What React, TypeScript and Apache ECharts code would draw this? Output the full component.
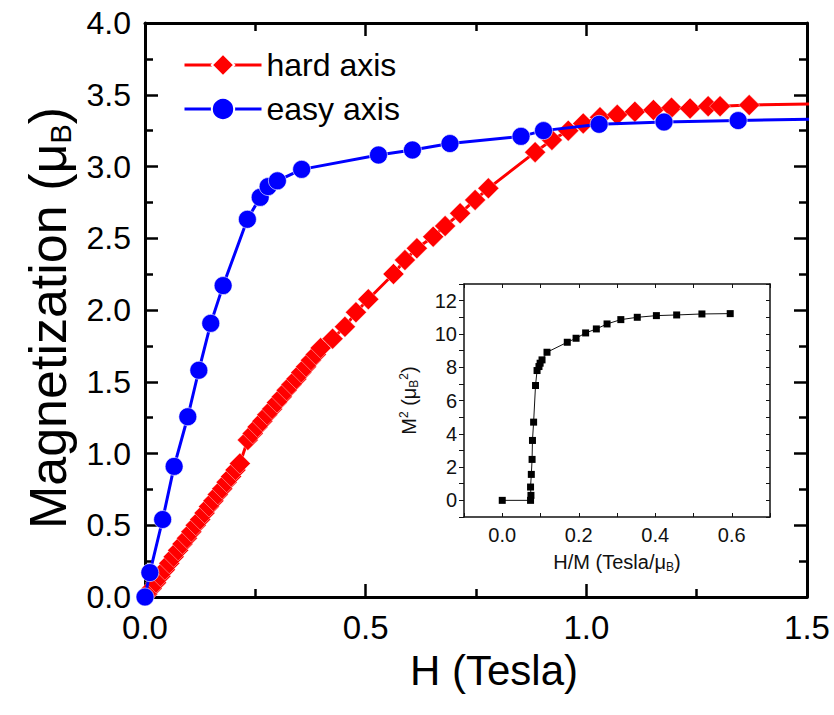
import React, { useEffect, useRef } from "react";
import * as echarts from "echarts";

// ---- main plot data: [H (Tesla), M (μB)] ----
const hardAxisH = [
  0.005, 0.015, 0.025, 0.035, 0.045, 0.055, 0.065, 0.075, 0.085, 0.095, 0.105,
  0.115, 0.125, 0.135, 0.145, 0.155, 0.165, 0.175, 0.185, 0.195, 0.205, 0.215,
  0.233, 0.244, 0.255, 0.266, 0.277, 0.288, 0.299, 0.31, 0.321, 0.332, 0.343,
  0.354, 0.365, 0.376, 0.387, 0.398, 0.425, 0.453, 0.478, 0.506, 0.563, 0.589,
  0.616, 0.653, 0.68, 0.714, 0.748, 0.778, 0.884, 0.922, 0.959, 0.993, 1.031,
  1.07, 1.11, 1.152, 1.193, 1.235, 1.276, 1.303, 1.369, 1.6,
];
const hardAxisM = [
  0.02, 0.06, 0.1, 0.145, 0.19, 0.235, 0.28, 0.325, 0.37, 0.41, 0.455,
  0.5, 0.54, 0.585, 0.63, 0.67, 0.715, 0.755, 0.8, 0.84, 0.885, 0.93,
  1.094, 1.14, 1.185, 1.225, 1.27, 1.31, 1.355, 1.395, 1.44, 1.48, 1.52,
  1.565, 1.605, 1.65, 1.69, 1.735, 1.8, 1.883, 1.984, 2.075, 2.251, 2.348,
  2.43, 2.511, 2.585, 2.674, 2.767, 2.848, 3.1, 3.185, 3.25, 3.3, 3.343,
  3.36, 3.382, 3.394, 3.41, 3.405, 3.42, 3.42, 3.428, 3.44,
];
const easyAxisH = [
  0.0, 0.011, 0.04, 0.066, 0.097, 0.122, 0.149, 0.177, 0.232, 0.261, 0.279,
  0.3, 0.355, 0.529, 0.606, 0.691, 0.852, 0.903, 1.029, 1.176, 1.344, 1.6,
];
const easyAxisM = [
  0.0, 0.17, 0.54, 0.91, 1.256, 1.58, 1.907, 2.17, 2.632, 2.785, 2.86,
  2.9, 2.98, 3.08, 3.115, 3.16, 3.21, 3.25, 3.294, 3.31, 3.32, 3.336,
];

// ---- inset data: [H/M (Tesla/μB), M² (μB²)] ----
const insetX = [
  0.0, 0.074, 0.075, 0.074, 0.076, 0.078, 0.079, 0.082, 0.087, 0.091, 0.096,
  0.099, 0.104, 0.117, 0.17, 0.193, 0.218, 0.246, 0.274, 0.31, 0.353, 0.403,
  0.456, 0.522, 0.596,
];
const insetY = [
  0.0, 0.0, 0.3, 0.8, 1.56, 2.46, 3.6, 4.7, 6.9, 7.8, 8.04,
  8.24, 8.44, 8.9, 9.5, 9.74, 10.06, 10.3, 10.6, 10.86, 11.0, 11.1,
  11.14, 11.2, 11.22,
];

const seriesNames = ["hard axis", "easy axis"];
const FONT = "'Liberation Sans', Arial, Helvetica, sans-serif";

const zip = (xs: number[], ys: number[]) => xs.map((x, i) => [x, ys[i]]);

export default function App() {
  const ref = useRef<HTMLDivElement>(null);

  useEffect(() => {
    if (!ref.current) return;
    const chart = echarts.init(ref.current, undefined, { renderer: "svg" });

    const mainLine = { onZero: false, lineStyle: { color: "#000", width: 3 } };
    const insetLine = { onZero: false, lineStyle: { color: "#111", width: 1.5 } };
    const mainTick = { inside: true, length: 13, lineStyle: { color: "#000", width: 2.5 } };
    const mainMinor = { show: true, splitNumber: 2, length: 8, lineStyle: { color: "#000", width: 2.5 } };
    const fmt1 = (v: number) => v.toFixed(1);

    const option: any = {
      animation: false,
      backgroundColor: "#fff",
      textStyle: { fontFamily: FONT },
      legend: {
        data: seriesNames,
        orient: "vertical",
        left: 178,
        top: 44,
        itemWidth: 77,
        itemHeight: 28,
        itemGap: 12,
        lineStyle: { width: 3 },
        textStyle: { fontSize: 32, color: "#000", fontFamily: FONT },
      },
      grid: [
        { left: 145, top: 23, width: 662, height: 574, containLabel: false, outerBoundsMode: "none" },
        { left: 464, top: 284, width: 306, height: 233, containLabel: false, outerBoundsMode: "none" },
      ],
      xAxis: [
        {
          type: "value",
          gridIndex: 0,
          min: 0,
          max: 1.5,
          interval: 0.5,
          position: "bottom",
          axisLine: mainLine,
          axisTick: mainTick,
          minorTick: mainMinor,
          splitLine: { show: false },
          axisLabel: { formatter: fmt1, fontSize: 33, color: "#000", margin: 14, fontFamily: FONT },
          name: "H (Tesla)",
          nameLocation: "middle",
          nameGap: 52,
          nameTextStyle: { fontSize: 42, color: "#000", fontFamily: FONT, padding: [0, 0, 0, 36] },
        },
        {
          type: "value",
          gridIndex: 0,
          min: 0,
          max: 1.5,
          interval: 0.5,
          position: "top",
          axisLine: mainLine,
          axisTick: mainTick,
          minorTick: mainMinor,
          splitLine: { show: false },
          axisLabel: { show: false },
        },
        {
          type: "value",
          gridIndex: 1,
          min: -0.1,
          max: 0.7,
          interval: 0.1,
          position: "bottom",
          axisLine: insetLine,
          axisTick: { inside: true, length: 4, lineStyle: { color: "#111", width: 1 } },
          splitLine: { show: false },
          axisLabel: {
            fontSize: 20,
            color: "#111",
            margin: 8,
            fontFamily: FONT,
            formatter: (v: number) => (Math.round(v * 10) % 2 === 0 ? v.toFixed(1) : ""),
          },
          name: "H/M (Tesla/μ{sub|B})",
          nameLocation: "middle",
          nameGap: 34,
          nameTextStyle: {
            fontSize: 20,
            color: "#111",
            fontFamily: FONT,
            rich: { sub: { fontSize: 12, color: "#111", verticalAlign: "bottom", padding: [10, 0, 0, 0] } },
          },
        },
        {
          type: "value",
          gridIndex: 1,
          min: -0.1,
          max: 0.7,
          interval: 0.1,
          position: "top",
          axisLine: insetLine,
          axisTick: { inside: true, length: 4, lineStyle: { color: "#111", width: 1 } },
          splitLine: { show: false },
          axisLabel: { show: false },
        },
      ],
      yAxis: [
        {
          type: "value",
          gridIndex: 0,
          min: 0,
          max: 4,
          interval: 0.5,
          position: "left",
          axisLine: mainLine,
          axisTick: mainTick,
          minorTick: mainMinor,
          splitLine: { show: false },
          axisLabel: { formatter: fmt1, fontSize: 32, color: "#000", margin: 14, fontFamily: FONT },
          name: "Magnetization (μ{sub|B})",
          nameLocation: "middle",
          nameRotate: 90,
          nameGap: 70,
          nameTextStyle: {
            fontSize: 52,
            color: "#000",
            fontFamily: FONT,
            padding: [0, 16, 0, 0],
            rich: { sub: { fontSize: 29, color: "#000", verticalAlign: "bottom", padding: [25, 0, 0, 0] } },
          },
        },
        {
          type: "value",
          gridIndex: 0,
          min: 0,
          max: 4,
          interval: 0.5,
          position: "right",
          axisLine: mainLine,
          axisTick: mainTick,
          minorTick: mainMinor,
          splitLine: { show: false },
          axisLabel: { show: false },
        },
        {
          type: "value",
          gridIndex: 1,
          min: -1,
          max: 13,
          interval: 1,
          position: "left",
          axisLine: insetLine,
          axisTick: { inside: false, length: 5, lineStyle: { color: "#111", width: 1 } },
          splitLine: { show: false },
          axisLabel: {
            fontSize: 20,
            color: "#111",
            margin: 7,
            fontFamily: FONT,
            formatter: (v: number) => (Math.round(v) % 2 === 0 && v >= 0 ? String(v) : ""),
          },
          name: "M{sup|2} (μ{sub|B}{sup|2})",
          nameLocation: "middle",
          nameRotate: 90,
          nameGap: 44,
          nameTextStyle: {
            fontSize: 20,
            color: "#111",
            fontFamily: FONT,
            rich: {
              sup: { fontSize: 12, color: "#111", verticalAlign: "top", padding: [0, 0, 10, 0] },
              sub: { fontSize: 12, color: "#111", verticalAlign: "bottom", padding: [10, 0, 0, 0] },
            },
          },
        },
        {
          type: "value",
          gridIndex: 1,
          min: -1,
          max: 13,
          interval: 1,
          position: "right",
          axisLine: insetLine,
          axisTick: { inside: true, length: 4, lineStyle: { color: "#111", width: 1 } },
          splitLine: { show: false },
          axisLabel: { show: false },
        },
      ],
      series: [
        {
          name: seriesNames[0],
          type: "line",
          xAxisIndex: 0,
          yAxisIndex: 0,
          data: zip(hardAxisH, hardAxisM),
          symbol: "diamond",
          symbolSize: 21,
          clip: true,
          lineStyle: { color: "#ff0000", width: 3 },
          itemStyle: { color: "#ff0000", borderColor: "#fff", borderWidth: 0.4 },
          z: 2,
        },
        {
          name: seriesNames[1],
          type: "line",
          xAxisIndex: 0,
          yAxisIndex: 0,
          data: zip(easyAxisH, easyAxisM),
          symbol: "circle",
          symbolSize: 18,
          clip: true,
          lineStyle: { color: "#0000ff", width: 3 },
          itemStyle: { color: "#0000ff", borderColor: "#fff", borderWidth: 0.6 },
          z: 3,
        },
        {
          name: "inset",
          type: "line",
          xAxisIndex: 2,
          yAxisIndex: 2,
          data: zip(insetX, insetY),
          symbol: "rect",
          symbolSize: 7,
          lineStyle: { color: "#111", width: 1 },
          itemStyle: { color: "#000" },
          z: 4,
        },
      ],
    };

    chart.setOption(option);
    return () => chart.dispose();
  }, []);

  return (
    <div
      ref={ref}
      style={{ position: "fixed", left: 0, top: 0, width: 834, height: 715, background: "#fff" }}
    />
  );
}
